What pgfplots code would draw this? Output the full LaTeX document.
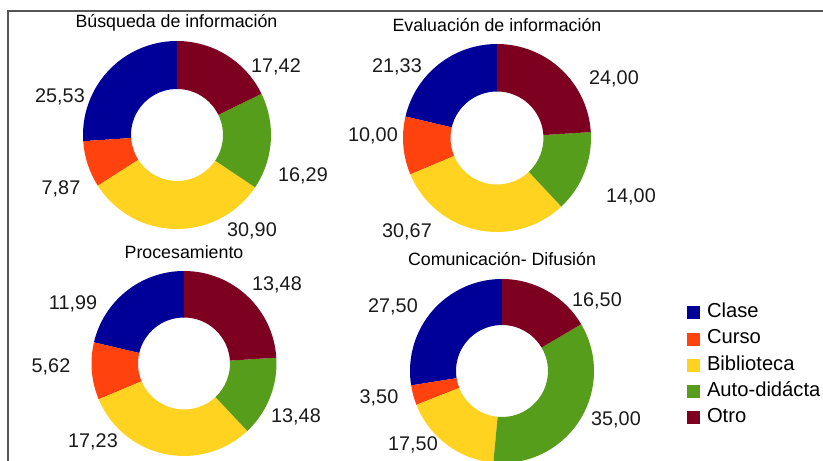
\documentclass[border=0pt]{standalone}
\usepackage{pgfplots}
\pgfplotsset{compat=1.18}
\usepackage{pgfplotstable}
\usepackage{fontspec}
\setmainfont{Liberation Sans}

\definecolor{c0}{HTML}{000099}
\definecolor{c1}{HTML}{FF420E}
\definecolor{c2}{HTML}{FFD320}
\definecolor{c3}{HTML}{579D1C}
\definecolor{c4}{HTML}{7E0021}
\definecolor{framecol}{HTML}{555555}
\definecolor{lbl}{HTML}{1A1A1A}

\newcommand\lblfont{\fontsize{19.8bp}{22bp}\selectfont}
\newcommand\titfont{\fontsize{17.8bp}{20bp}\selectfont}
\newcommand\legfont{\fontsize{20.2bp}{22bp}\selectfont}

% share = drawn share of the ring, label = printed value, lx/ly = label centre (px from top-left)
\pgfplotstableread{
share label lx ly
25.53 25,53 60 95
7.87 7,87 61 187
30.90 30,90 252 229
16.29 16,29 303 174
17.42 17,42 276 65
}\tabA
\pgfplotstableread{
share label lx ly
21.33 21,33 397 65
10.00 10,00 373 134
30.67 30,67 407 230
14.00 14,00 631 195
24.00 24,00 614 77
}\tabB
\pgfplotstableread{
share label lx ly
21.33 11,99 73 302
10.00 5,62 51 365
30.67 17,23 93 440
14.00 13,48 296 415
24.00 13,48 277 283
}\tabC
\pgfplotstableread{
share label lx ly
27.50 27,50 393 305
3.50 3,50 379 396
17.50 17,50 413 443
35.00 35,00 616 418
16.50 16,50 597 299
}\tabD

% #1 table, #2 cx, #3 cy (px from top), #4 outer radius, #5 inner radius
\newcommand\donut[5]{%
  \pgfmathsetmacro\mytot{0}%
  \pgfplotsforeachungrouped \myi in {0,1,2,3,4}{%
    \pgfplotstablegetelem{\myi}{share}\of#1%
    \pgfmathsetmacro\mytot{\mytot+\pgfplotsretval}}%
  \pgfmathsetmacro\myaS{90}%
  \pgfmathsetmacro\mycy{461-#3}%
  \pgfmathsetmacro\mydr{#5-#4}%
  \pgfplotsforeachungrouped \myi in {0,1,2,3,4}{%
    \pgfplotstablegetelem{\myi}{share}\of#1%
    \pgfmathsetmacro\myaE{\myaS+360*\pgfplotsretval/\mytot}%
    \pgfmathsetmacro\mypx{#2+#4*cos(\myaS)}%
    \pgfmathsetmacro\mypy{\mycy+#4*sin(\myaS)}%
    \edef\mycmd{\noexpand\fill[c\myi] (axis cs:\mypx,\mypy) arc[start angle=\myaS,end angle=\myaE,radius=#4bp] -- ++(\myaE:\mydr bp) arc[start angle=\myaE,end angle=\myaS,radius=#5bp] -- cycle;}%
    \mycmd
    \pgfplotstablegetelem{\myi}{label}\of#1\let\mylab\pgfplotsretval
    \pgfplotstablegetelem{\myi}{lx}\of#1\let\mylx\pgfplotsretval
    \pgfplotstablegetelem{\myi}{ly}\of#1%
    \pgfmathsetmacro\myly{461-\pgfplotsretval-7.1}%
    \edef\mycmd{\noexpand\node[anchor=base,inner sep=0pt,font=\noexpand\lblfont,text=lbl] at (axis cs:\mylx,\myly) {\mylab};}%
    \mycmd
    \let\myaS\myaE
  }%
}

\begin{document}
\begin{tikzpicture}[trim left=0bp, trim right=823bp]
\path (0,0) rectangle (823bp,461bp);
\begin{axis}[
  hide axis,
  x=1bp, y=1bp,
  xmin=0, xmax=823, ymin=0, ymax=461,
  at={(0,0)}, anchor=south west,
  legend image code/.code={\fill[#1] (0bp,-6.5bp) rectangle (13bp,6.5bp);},
  legend cell align=left,
  legend style={at={(axis cs:687,157)}, anchor=north west, draw=none, fill=none,
    inner sep=0pt, outer sep=0pt, font=\legfont, row sep=8.8bp,
    nodes={inner sep=0pt, text height=13.5bp, text depth=4bp},
    /tikz/every odd column/.append style={column sep=7bp}},
]
\draw[framecol, line width=1.2bp] (axis cs:8,0) -- (axis cs:8,450) -- (axis cs:823,450);
\addlegendimage{fill=c0,draw=none}\addlegendentry{Clase}
\addlegendimage{fill=c1,draw=none}\addlegendentry{Curso}
\addlegendimage{fill=c2,draw=none}\addlegendentry{Biblioteca}
\addlegendimage{fill=c3,draw=none}\addlegendentry{Auto-didácta}
\addlegendimage{fill=c4,draw=none}\addlegendentry{Otro}
\donut{\tabA}{177}{135}{94}{46}
\donut{\tabB}{497}{138}{94}{46.5}
\donut{\tabC}{184}{363.5}{92.5}{46}
\donut{\tabD}{502}{371}{92}{46}
\node[anchor=base,inner sep=0pt,font=\titfont] at (axis cs:176.5,433.7) {Búsqueda de información};
\node[anchor=base,inner sep=0pt,font=\titfont] at (axis cs:497,429.3) {Evaluación de información};
\node[anchor=base,inner sep=0pt,font=\titfont] at (axis cs:184,202.7) {Procesamiento};
\node[anchor=base,inner sep=0pt,font=\titfont] at (axis cs:502,196) {Comunicación- Difusión};
\end{axis}
\end{tikzpicture}
\end{document}
